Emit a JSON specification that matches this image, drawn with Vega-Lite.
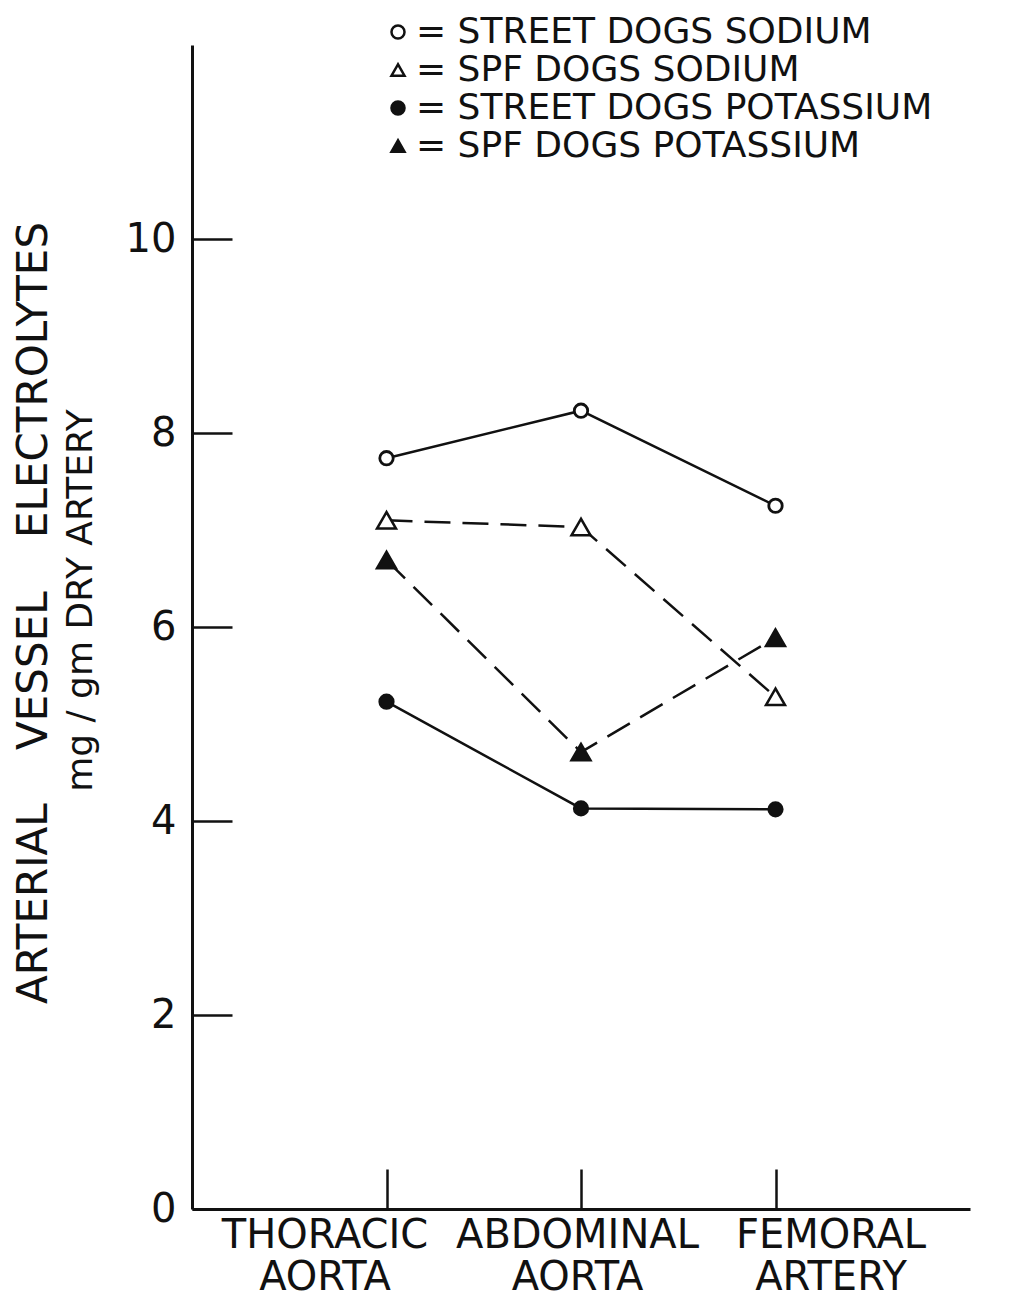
{
  "$schema": "https://vega.github.io/schema/vega-lite/v6.json",
  "autosize": "none",
  "width": 778,
  "height": 1164,
  "padding": {"left": 192, "top": 45, "right": 44, "bottom": 88},
  "background": "white",
  "title": {"text": "ARTERIAL\u00a0\u00a0\u00a0\u00a0VESSEL\u00a0\u00a0\u00a0\u00a0ELECTROLYTES", "orient": "left", "anchor": "middle", "frame": "group", "fontSize": 42, "font": "DejaVu Sans", "fontWeight": "normal", "color": "#111", "offset": 6, "dx": 14},
  "config": {
    "view": {"stroke": null},
    "font": "DejaVu Sans",
    "axis": {"domainColor": "#111", "tickColor": "#111", "labelColor": "#111", "titleColor": "#111", "grid": false, "domainWidth": 3, "tickWidth": 2.5, "labelFont": "DejaVu Sans", "titleFont": "DejaVu Sans", "titleFontWeight": "normal"}
  },
  "data": {"values": [
    {"site": "THORACIC AORTA", "series": "STREET DOGS SODIUM", "value": 7.74},
    {"site": "ABDOMINAL AORTA", "series": "STREET DOGS SODIUM", "value": 8.23},
    {"site": "FEMORAL ARTERY", "series": "STREET DOGS SODIUM", "value": 7.25},
    {"site": "THORACIC AORTA", "series": "SPF DOGS SODIUM", "value": 7.10},
    {"site": "ABDOMINAL AORTA", "series": "SPF DOGS SODIUM", "value": 7.03},
    {"site": "FEMORAL ARTERY", "series": "SPF DOGS SODIUM", "value": 5.28},
    {"site": "THORACIC AORTA", "series": "STREET DOGS POTASSIUM", "value": 5.23},
    {"site": "ABDOMINAL AORTA", "series": "STREET DOGS POTASSIUM", "value": 4.13},
    {"site": "FEMORAL ARTERY", "series": "STREET DOGS POTASSIUM", "value": 4.12},
    {"site": "THORACIC AORTA", "series": "SPF DOGS POTASSIUM", "value": 6.69},
    {"site": "ABDOMINAL AORTA", "series": "SPF DOGS POTASSIUM", "value": 4.71},
    {"site": "FEMORAL ARTERY", "series": "SPF DOGS POTASSIUM", "value": 5.89}
  ]},
  "encoding": {
    "x": {"field": "site", "type": "nominal", "sort": null,
      "scale": {"type": "point", "padding": 1},
      "axis": {"title": null, "labelAngle": 0, "tickSize": -40, "labelPadding": 46, "labelFontSize": 40, "labelLineHeight": 42, "labelBaseline": "top", "labelLimit": 500,
        "labelOffset": {"condition": [{"test": "datum.value == 'THORACIC AORTA'", "value": -62}, {"test": "datum.value == 'FEMORAL ARTERY'", "value": 55}], "value": -4},
        "labelExpr": "split(datum.label, ' ')"}},
    "y": {"field": "value", "type": "quantitative",
      "scale": {"domain": [0, 12], "nice": false, "zero": true},
      "axis": {"values": [0, 2, 4, 6, 8, 10], "tickSize": -40, "labelPadding": 56, "labelFontSize": 40,
        "title": "mg / gm DRY ARTERY",
        "titleFontSize": 36, "titleBaseline": "middle", "titleX": -112, "titleY": 555}}
  },
  "layer": [
    {
      "transform": [{"filter": "indexof(datum.series, 'STREET') == 0"}],
      "mark": {"type": "line", "color": "#111", "strokeWidth": 2.5},
      "encoding": {"detail": {"field": "series"}}
    },
    {
      "transform": [{"filter": "indexof(datum.series, 'SPF') == 0"}],
      "mark": {"type": "line", "color": "#111", "strokeWidth": 2.5, "strokeDash": [26, 12]},
      "encoding": {"detail": {"field": "series"}}
    },
    {
      "transform": [{"filter": "indexof(datum.series, 'STREET') == 0"}],
      "mark": {"type": "point", "filled": false, "color": "#111", "strokeWidth": 2.8, "opacity": 1, "size": 180},
      "encoding": {
        "shape": {"field": "series", "type": "nominal",
          "scale": {"domain": ["STREET DOGS SODIUM", "SPF DOGS SODIUM", "STREET DOGS POTASSIUM", "SPF DOGS POTASSIUM"], "range": ["circle", "triangle-up", "circle", "triangle-up"]},
          "legend": {"title": null, "orient": "none", "legendX": 188, "legendY": -31, "labelFontSize": 36, "labelColor": "#111", "labelFont": "DejaVu Sans", "labelExpr": "'= ' + datum.label", "labelLimit": 800, "symbolSize": 170, "symbolStrokeWidth": 2.5, "labelOffset": 0, "rowPadding": 2}},
        "fill": {"field": "series", "type": "nominal",
          "scale": {"domain": ["STREET DOGS SODIUM", "SPF DOGS SODIUM", "STREET DOGS POTASSIUM", "SPF DOGS POTASSIUM"], "range": ["white", "white", "#111", "#111"]}}
      }
    },
    {
      "transform": [{"filter": "indexof(datum.series, 'SPF') == 0"}],
      "mark": {"type": "point", "filled": false, "color": "#111", "strokeWidth": 2.5, "opacity": 1, "size": 360},
      "encoding": {
        "shape": {"field": "series", "type": "nominal"},
        "fill": {"field": "series", "type": "nominal"}
      }
    }
  ]
}
